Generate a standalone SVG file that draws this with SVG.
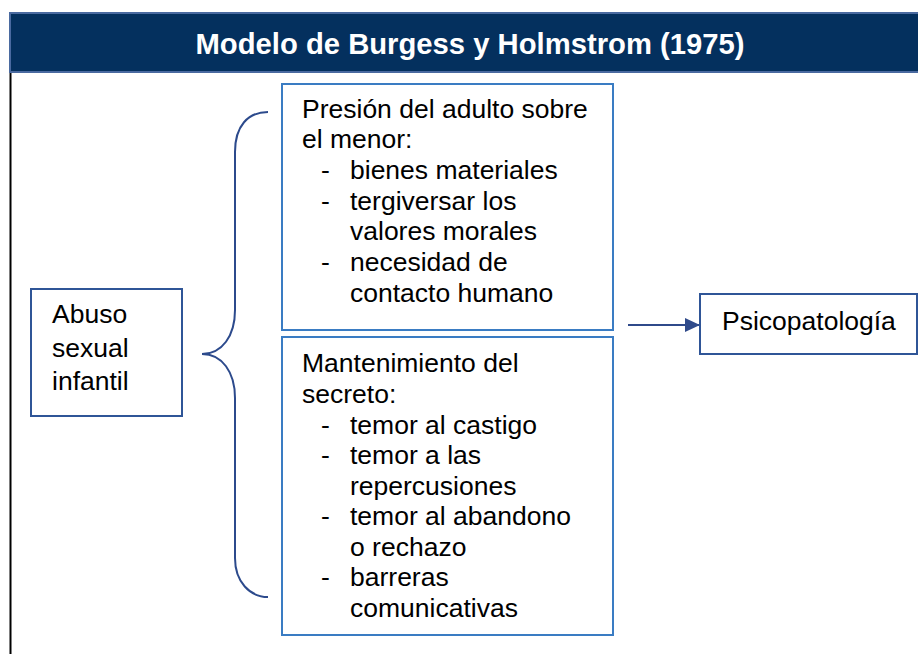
<svg xmlns="http://www.w3.org/2000/svg" width="918" height="654" viewBox="0 0 918 654">
<style>
text{font-family:"Liberation Sans",Arial,sans-serif;font-size:26.5px;fill:#000}
.title{font-weight:bold;fill:#fff;font-size:29px}
.nb{fill:#fff;stroke:#2f5597;stroke-width:2}
.lb{fill:#fff;stroke:#3a7cc3;stroke-width:2}
</style>
<defs>
<marker id="ah" markerWidth="15" markerHeight="14" refX="14" refY="7" orient="auto" markerUnits="userSpaceOnUse" viewBox="0 0 15 14">
<path d="M0,0 L15,7 L0,14 Z" fill="#2f4a8a"/>
</marker>
</defs>
<rect width="918" height="654" fill="#fff"/>
<g id="frame">
<line x1="10.5" y1="73" x2="10.5" y2="654" stroke="#000" stroke-width="2"/>
<rect x="10" y="13" width="912" height="59" fill="#04305e" stroke="#4a6aa0" stroke-width="2"/>
<text class="title" x="470" y="54" text-anchor="middle" textLength="549" lengthAdjust="spacingAndGlyphs">Modelo de Burgess y Holmstrom (1975)</text>
</g>
<g id="connectors">
<path d="M268,112 C248,112 235,126 235,152 L235,310 C235,336 222,354 202,354 C222,354 235,372 235,398 L235,558 C235,582 250,597 268,597" fill="none" stroke="#2c4a8c" stroke-width="2"/>
<line x1="628" y1="325" x2="699" y2="325" stroke="#2f4a8a" stroke-width="2" marker-end="url(#ah)"/>
</g>
<g id="abuso">
<rect class="nb" x="31" y="289" width="151" height="127"/>
<text x="52" y="323">Abuso</text>
<text x="52" y="357">sexual</text>
<text x="52" y="390">infantil</text>
</g>
<g id="presion">
<rect class="lb" x="282" y="84" width="331" height="246"/>
<text x="302" y="118">Presión del adulto sobre</text>
<text x="302" y="148">el menor:</text>
<text x="321" y="179">-</text><text x="350" y="179">bienes materiales</text>
<text x="321" y="210">-</text><text x="350" y="210">tergiversar los</text>
<text x="350" y="240">valores morales</text>
<text x="321" y="271">-</text><text x="350" y="271">necesidad de</text>
<text x="350" y="302">contacto humano</text>
</g>
<g id="secreto">
<rect class="lb" x="282" y="337" width="331" height="298"/>
<text x="302" y="372">Mantenimiento del</text>
<text x="302" y="403">secreto:</text>
<text x="321" y="434">-</text><text x="350" y="434">temor al castigo</text>
<text x="321" y="464">-</text><text x="350" y="464">temor a las</text>
<text x="350" y="495">repercusiones</text>
<text x="321" y="525">-</text><text x="350" y="525">temor al abandono</text>
<text x="350" y="556">o rechazo</text>
<text x="321" y="586">-</text><text x="350" y="586">barreras</text>
<text x="350" y="617">comunicativas</text>
</g>
<g id="psico">
<rect class="nb" x="700" y="294" width="217" height="60"/>
<text x="722" y="330">Psicopatología</text>
</g>
</svg>
